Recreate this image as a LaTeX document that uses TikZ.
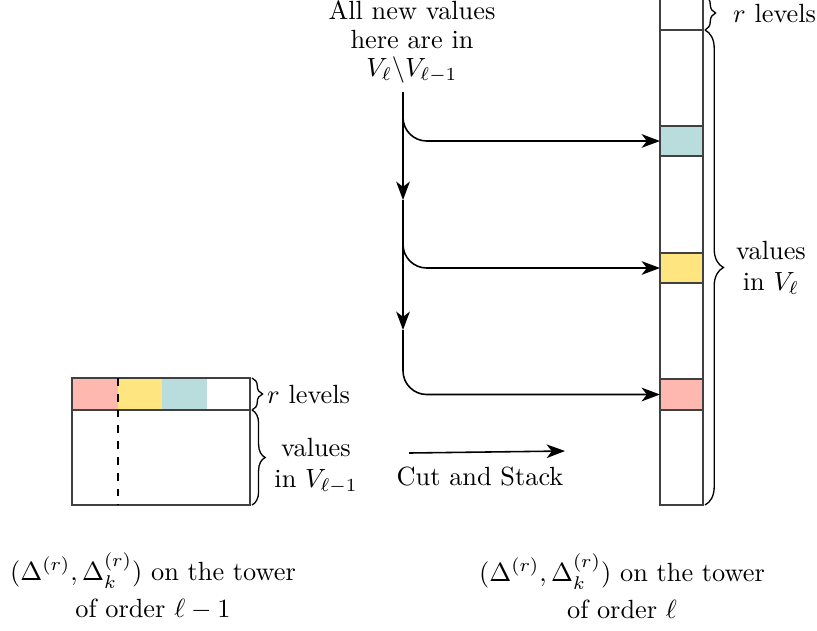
\documentclass[tikz,border=0pt]{standalone}
\usetikzlibrary{arrows.meta,decorations.pathreplacing}
\definecolor{cpink}{HTML}{FFB8B0}
\definecolor{cyel}{HTML}{FFE580}
\definecolor{cteal}{HTML}{B9DDDD}
\begin{document}
\begin{tikzpicture}[x=0.38pt,y=-0.38pt,
  arr/.style={-{Stealth[length=7pt,width=5.2pt,inset=2pt]}, line width=0.6pt},
  box/.style={line width=0.5pt, draw=black!75},
  brc/.style={decorate, decoration={brace, amplitude=#1}, line width=0.5pt},
  lbl/.style={inner sep=1pt, align=center}]
\useasboundingbox (0,0) rectangle (817,630);
\clip (0,0) rectangle (817,630);
% left tower
\fill[cpink] (72,378) rectangle (118,410);
\fill[cyel] (118,378) rectangle (162,410);
\fill[cteal] (162,378) rectangle (207,410);
\draw[box] (72,378) rectangle (250,505);
\draw[box] (72,410) -- (250,410);
\draw[dashed, line width=0.5pt] (118,378) -- (118,505);
\draw[brc=4pt] (252,378) -- (252,410);
\draw[brc=5pt] (252,410) -- (252,505);
\node[lbl, anchor=west] (lr) at (264,394) {$r$ levels};
\node[lbl] (lv) at (316,466) {values\\in $V_{\ell-1}$};
% right tower
\draw[box] (660,-20) rectangle (703,505);
\draw[box] (660,30) -- (703,30);
\draw[box, fill=cteal] (660,126) rectangle (703,156);
\draw[box, fill=cyel] (660,253) rectangle (703,283);
\draw[box, fill=cpink] (660,379) rectangle (703,410);
\coordinate (c1) at (660,141);
\coordinate (c2) at (660,268);
\coordinate (c3) at (660,394.5);
\draw[brc=4pt] (705,-4) -- (705,30);
\draw[brc=7pt] (705,30) -- (705,505);
\node[lbl, anchor=west] (rr) at (730,14) {$r$ levels};
\node[lbl] (rv) at (771,268) {values\\in $V_\ell$};
% top text and branching arrows
\node[lbl] (top) at (412,42) {All new values\\[-1.2pt]here are in\\[-1.2pt]$V_\ell\backslash V_{\ell-1}$};
\coordinate (s0) at (403,92);
\coordinate (s1) at (403,200);
\coordinate (s2) at (403,330);
\draw[arr] (s0) -- (s1);
\draw[arr] (s1) -- (s2);
\draw[arr, rounded corners=9pt] (s0) |- (c1);
\draw[arr, rounded corners=9pt] (s1) |- (c2);
\draw[arr, rounded corners=9pt] (s2) |- (c3);
% cut and stack
\coordinate (a0) at (409,453);
\coordinate (a1) at (565,451);
\draw[arr] (a0) -- (a1);
\node[lbl] (cs) at (480,476) {Cut and Stack};
% captions
\node[lbl] (capl) at (153,586) {$(\Delta^{(r)},\Delta^{(r)}_k)$ on the tower\\[2pt]of order $\ell-1$};
\node[lbl] (capr) at (622,586) {$(\Delta^{(r)},\Delta^{(r)}_k)$ on the tower\\[2pt]of order $\ell$};
\end{tikzpicture}
\end{document}
